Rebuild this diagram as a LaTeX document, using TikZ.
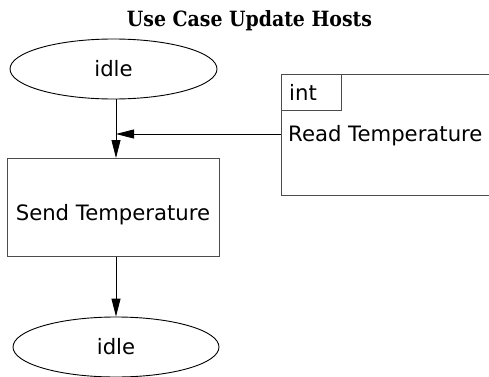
\documentclass[tikz,border=0pt]{standalone}
\usepackage{fontspec}
\newfontfamily\diagsans{DejaVu Sans}
\newfontfamily\diagserif{DejaVu Serif Condensed}
\usetikzlibrary{arrows.meta,shapes.geometric}
\begin{document}
\begin{tikzpicture}[x=1pt,y=1pt,
  lbl/.style={font=\diagsans\fontsize{21.2}{24}\selectfont, inner sep=0pt},
  statenode/.style={ellipse, draw=black, line width=0.9pt, inner sep=0pt},
  boxnode/.style={rectangle, draw=black!70, line width=1pt, inner sep=0pt},
  arr/.style={line width=0.9pt, -{Triangle[length=18pt,width=9pt]}},
  ttl/.style={font=\diagserif\bfseries\fontsize{21}{25}\selectfont, inner sep=0pt}]
\useasboundingbox (0,0) rectangle (489,376);
\clip (0,0) rectangle (489,376);
\node[ttl, anchor=base] (title) at (249.5,349.5) {Use Case Update Hosts};
\node[statenode, minimum width=207pt, minimum height=60pt, lbl] (idle1) at (113.5,307) {idle};
\node[boxnode, minimum width=212pt, minimum height=97.5pt, lbl, text height=25.5pt, text depth=0pt] (send) at (113,168.75) {Send Temperature};
\node[statenode, minimum width=206pt, minimum height=60pt, lbl] (idle2) at (116,29) {idle};
\node[boxnode, anchor=north west, minimum width=260pt, minimum height=121pt] (read) at (280.7,302) {};
\node[boxnode, anchor=north west, minimum width=60pt, minimum height=36pt] (int) at (280.7,302) {};
\node[lbl, anchor=base west] (intlbl) at (289,276) {int};
\node[lbl, anchor=base west] (readlbl) at (288,234.3) {Read Temperature};
\coordinate (ax) at (116,0);
\coordinate (hy) at (0,242);
\draw[arr] (ax |- idle1.south) -- (ax |- send.north);
\draw[arr] (ax |- send.south) -- (ax |- idle2.north);
\draw[arr] (read.west |- hy) -- (ax |- hy);
\end{tikzpicture}
\end{document}
